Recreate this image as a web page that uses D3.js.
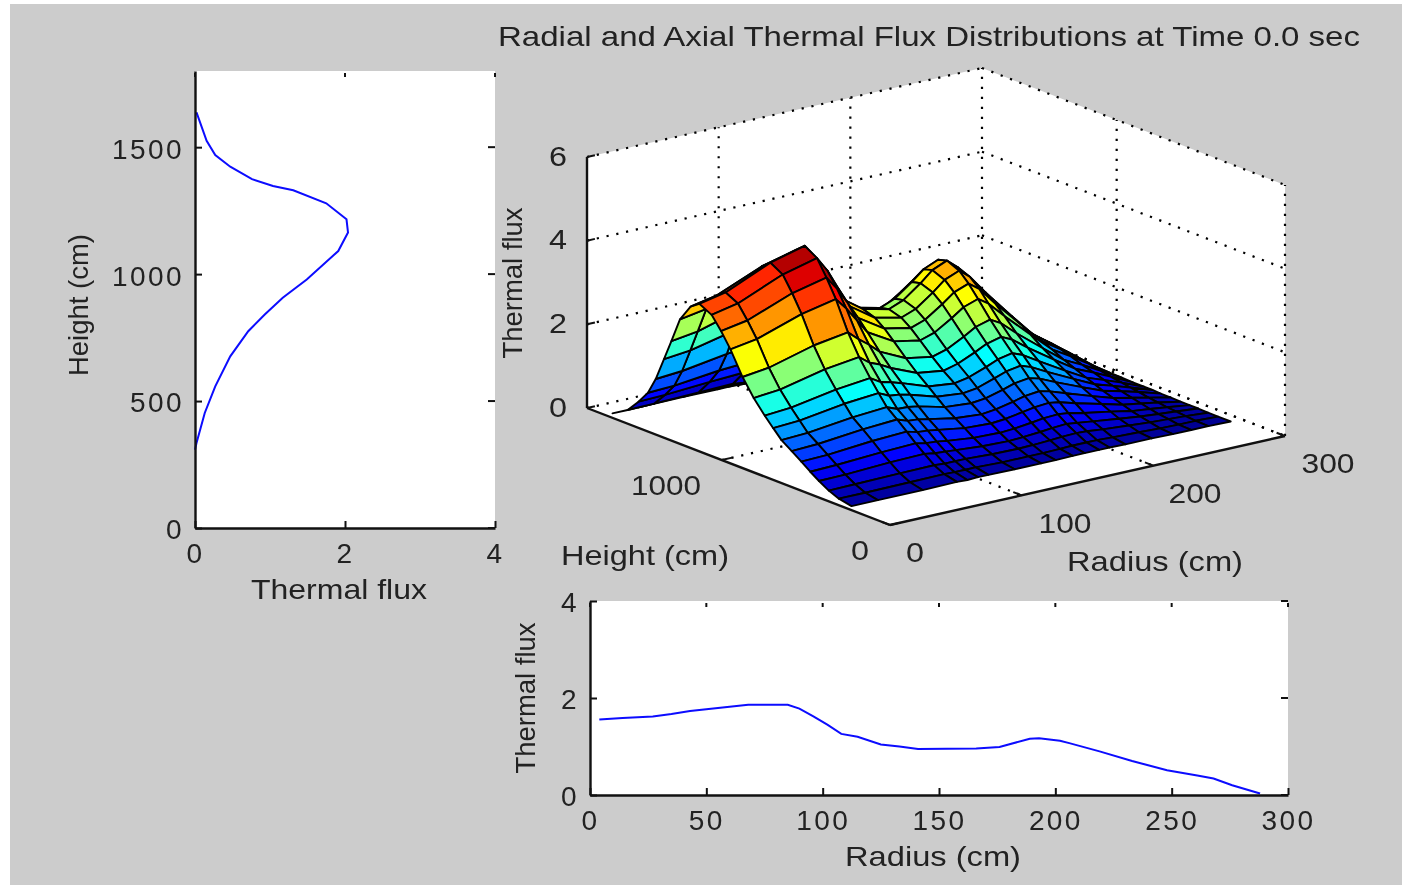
<!DOCTYPE html>
<html>
<head>
<meta charset="utf-8">
<title>Thermal flux</title>
<script src="https://cdn.jsdelivr.net/npm/d3@7"></script>
<style>
  html, body { margin: 0; padding: 0; background: #fff; }
  svg { display: block; filter: blur(0.6px); }
  text { font-family: "Liberation Sans", Arial, sans-serif; fill: #222; }
</style>
</head>
<body>
<script>
// axial profile (left plot)
const axialHeight = [308,335,453,558,676,775,841,907,979,1091,1164,1216,1279,1330,1347,1374,1423,1469,1525,1637];
const axialFlux = [0,0.02,0.13,0.27,0.47,0.71,0.93,1.17,1.49,1.91,2.04,2.02,1.75,1.31,1.04,0.76,0.47,0.27,0.155,0.02];

// radial profile (bottom plot)
const radialRadius = [4,14,27,35,43,50,58,68,85,90,96,102,108,115,125,133,141,166,176,189,193,202,206,219,233,248,261,268,276,288];
const radialFlux = [1.555,1.59,1.62,1.67,1.73,1.77,1.81,1.86,1.86,1.78,1.62,1.45,1.26,1.2,1.04,1.0,0.95,0.96,0.99,1.16,1.17,1.12,1.07,0.9,0.7,0.51,0.4,0.34,0.2,0.03];

const surfRadius = [4,24,58,84,92,100,108,128,148,159,172,181,192,200,212,232,248,262,275,292];
const surfHeight = [260,335,395,453,505,558,615,676,725,775,841,907,979,1035,1091,1164,1216,1279,1330,1374,1423,1469,1525,1590,1680];
const surfFlux = [
  [.02,.02,.02,.03,.02,.03,.03,.02,.02,.02,.03,.03,.03,.03,.02,.02,.01,.01,.01,0],
  [.08,.08,.09,.10,.09,.09,.09,.07,.07,.07,.08,.09,.09,.09,.07,.05,.03,.02,.02,0],
  [.18,.19,.21,.22,.20,.20,.20,.17,.16,.17,.19,.21,.22,.21,.17,.12,.08,.06,.04,0],
  [.32,.33,.38,.40,.36,.34,.32,.27,.25,.27,.30,.33,.35,.32,.27,.19,.13,.09,.06,.01],
  [.46,.48,.54,.57,.52,.50,.46,.39,.37,.39,.44,.48,.50,.47,.39,.28,.18,.13,.08,.01],
  [.62,.64,.73,.77,.70,.68,.64,.54,.51,.54,.61,.66,.69,.65,.54,.38,.25,.18,.11,.01],
  [.78,.81,.92,.97,.88,.86,.81,.69,.64,.68,.77,.84,.88,.82,.69,.48,.32,.23,.14,.02],
  [.95,.98,1.11,1.17,1.07,1.06,1.02,.86,.81,.85,.96,1.05,1.10,1.03,.86,.60,.40,.29,.18,.02],
  [1.16,1.20,1.36,1.43,1.31,1.28,1.22,1.03,.97,1.02,1.16,1.26,1.32,1.23,1.03,.72,.48,.34,.21,.03],
  [1.38,1.43,1.62,1.71,1.56,1.50,1.42,1.20,1.13,1.20,1.35,1.47,1.54,1.44,1.21,.84,.56,.40,.25,.03],
  [1.70,1.76,2.00,2.11,1.92,1.82,1.68,1.42,1.33,1.42,1.60,1.74,1.83,1.71,1.43,1.00,.67,.48,.29,.03],
  [2.10,2.18,2.47,2.60,2.38,2.19,1.97,1.67,1.56,1.66,1.87,2.04,2.14,2.00,1.67,1.17,.78,.56,.34,.04],
  [2.65,2.75,3.11,3.28,3.00,2.66,2.32,1.96,1.84,1.95,2.20,2.40,2.52,2.35,1.97,1.38,.92,.66,.40,.05],
  [3.00,3.11,3.52,3.71,3.39,3.00,2.58,2.18,2.05,2.17,2.45,2.67,2.80,2.62,2.19,1.53,1.02,.73,.45,.05],
  [3.30,3.43,3.88,4.09,3.73,3.26,2.78,2.35,2.21,2.34,2.64,2.88,3.02,2.82,2.36,1.65,1.10,.79,.48,.06],
  [3.45,3.58,4.05,4.27,3.90,3.40,2.90,2.45,2.30,2.44,2.75,3.00,3.15,2.94,2.46,1.72,1.15,.82,.50,.06],
  [3.30,3.43,3.88,4.09,3.73,3.30,2.84,2.40,2.25,2.39,2.70,2.94,3.09,2.88,2.41,1.69,1.13,.80,.49,.06],
  [2.90,3.01,3.40,3.59,3.28,2.90,2.49,2.11,1.98,2.10,2.37,2.58,2.71,2.53,2.12,1.48,.99,.71,.43,.05],
  [2.30,2.39,2.70,2.85,2.60,2.30,1.97,1.67,1.56,1.66,1.87,2.04,2.14,2.00,1.67,1.17,.78,.56,.34,.04],
  [1.80,1.87,2.11,2.23,2.04,1.74,1.45,1.23,1.15,1.22,1.38,1.50,1.58,1.47,1.23,.86,.58,.41,.25,.03],
  [1.25,1.30,1.47,1.55,1.41,1.23,1.04,.88,.83,.88,.99,1.08,1.13,1.06,.89,.62,.41,.30,.18,.02],
  [.85,.88,1.00,1.05,.96,.84,.73,.61,.58,.61,.69,.75,.79,.74,.62,.43,.29,.21,.13,.02],
  [.55,.57,.64,.68,.62,.53,.44,.37,.35,.37,.41,.45,.47,.44,.37,.26,.17,.12,.08,.01],
  [.25,.26,.29,.31,.28,.24,.20,.17,.16,.17,.19,.21,.22,.21,.17,.12,.08,.06,.04,0],
  [.03,.03,.04,.04,.04,.03,.03,.02,.02,.02,.03,.03,.03,.03,.02,.02,.01,.01,.01,0]
];

const width = 1402, height = 887;
const fontSize = 28;

const svg = d3.select("body").append("svg")
    .attr("width", width)
    .attr("height", height);

svg.append("rect")
    .attr("x", 10).attr("y", 4)
    .attr("width", width - 10).attr("height", 881)
    .attr("fill", "#cccccc");

// text stretched to the measured width, the original font is wider than anything installed
function label(x, y, str, len, rotate) {
  const t = svg.append("text")
      .attr("text-anchor", "middle")
      .attr("dominant-baseline", "central")
      .attr("font-size", fontSize)
      .attr("textLength", len)
      .attr("lengthAdjust", "spacingAndGlyphs")
      .text(str);
  if (rotate) t.attr("transform", `translate(${x},${y}) rotate(-90)`);
  else t.attr("x", x).attr("y", y);
}

// one of the two flat line plots
function flatPlot(x0, x1, y0, y1, xDomain, yDomain, xTicks, yTicks, xs, ys) {
  const x = d3.scaleLinear().domain(xDomain).range([x0, x1]);
  const y = d3.scaleLinear().domain(yDomain).range([y1, y0]);
  const g = svg.append("g");

  g.append("rect")
      .attr("x", x0).attr("y", y0)
      .attr("width", x1 - x0).attr("height", y1 - y0)
      .attr("fill", "#fff");

  g.append("path")
      .datum(xs.map((d, i) => [d, ys[i]]))
      .attr("fill", "none")
      .attr("stroke", "#0c0cff")
      .attr("stroke-width", 2)
      .attr("d", d3.line().x(d => x(d[0])).y(d => y(d[1])));

  const styleAxis = sel => {
    sel.selectAll(".domain").attr("stroke", "#111").attr("stroke-width", 2.4);
    sel.selectAll(".tick line").attr("stroke", "#111").attr("stroke-width", 2);
    sel.selectAll("text")
        .attr("font-size", fontSize)
        .style("letter-spacing", "2.4px")
        .style("font-family", '"Liberation Sans", Arial, sans-serif');
  };

  g.append("g")
      .attr("transform", `translate(0,${y1})`)
      .call(d3.axisBottom(x).tickValues(xTicks).tickFormat(d3.format("d")).tickSize(-7).tickPadding(15).tickSizeOuter(0))
      .call(styleAxis);
  g.append("g")
      .attr("transform", `translate(${x0},0)`)
      .call(d3.axisLeft(y).tickValues(yTicks).tickFormat(d3.format("d")).tickSize(-7).tickPadding(11).tickSizeOuter(0))
      .call(styleAxis)
      .selectAll("text").attr("dy", "0.39em");

  // ticks on the far sides, no spine there
  g.append("g").selectAll("line").data(xTicks).join("line")
      .attr("x1", d => x(d)).attr("x2", d => x(d))
      .attr("y1", y0 + 2).attr("y2", y0 + 6)
      .attr("stroke", "#111").attr("stroke-width", 2);
  g.append("g").selectAll("line").data(yTicks).join("line")
      .attr("x1", x1 - 7).attr("x2", x1)
      .attr("y1", d => y(d)).attr("y2", d => y(d))
      .attr("stroke", "#111").attr("stroke-width", 2);
}

flatPlot(195, 495, 71, 528, [0, 4], [0, 1800], [0, 2, 4], [0, 500, 1000, 1500], axialFlux, axialHeight);
flatPlot(590, 1288, 601, 795, [0, 300], [0, 4], [0, 50, 100, 150, 200, 250, 300], [0, 2, 4], radialRadius, radialFlux);

label(339, 589, "Thermal flux", 176);
label(78, 305, "Height (cm)", 142, true);
label(933, 856, "Radius (cm)", 176);
label(525, 698, "Thermal flux", 151, true);

// ---- 3d view, oblique projection through three scales ----
const originX = 890, originY = 525;
const rX = d3.scaleLinear().domain([0, 300]).range([0, 395]);
const rY = d3.scaleLinear().domain([0, 300]).range([0, -89]);
const hX = d3.scaleLinear().domain([0, 1800]).range([0, -303]);
const hY = d3.scaleLinear().domain([0, 1800]).range([0, -117]);
const zY = d3.scaleLinear().domain([0, 6]).range([0, -251]);

const project = (r, h, z) => [originX + rX(r) + hX(h), originY + rY(r) + hY(h) + zY(z)];

const g3 = svg.append("g");

g3.append("path")
    .attr("fill", "#fff")
    .attr("d", d3.line()([project(0, 1800, 0), project(0, 1800, 6), project(300, 1800, 6),
                          project(300, 0, 6), project(300, 0, 0), project(0, 0, 0)]) + "Z");

// dotted grid on the floor and both back walls
const gridLines = [];
[2, 4, 6, 0].forEach(z => {
  gridLines.push([project(0, 1800, z), project(300, 1800, z)]);
  gridLines.push([project(300, 1800, z), project(300, 0, z)]);
});
[100, 200, 300].forEach(r => {
  gridLines.push([project(r, 1800, 0), project(r, 1800, 6)]);
  gridLines.push([project(r, 1800, 0), project(r, 0, 0)]);
});
gridLines.push([project(300, 0, 0), project(300, 0, 6)]);
gridLines.push([project(300, 1000, 0), project(300, 1000, 6)]);
gridLines.push([project(0, 1000, 0), project(300, 1000, 0)]);

g3.append("g").selectAll("path").data(gridLines).join("path")
    .attr("d", d => d3.line()(d))
    .attr("fill", "none")
    .attr("stroke", "#000")
    .attr("stroke-width", 2.2)
    .attr("stroke-dasharray", "2.2 7.8");

// jet colormap, z goes from 0 to the surface maximum
const zMax = d3.max(surfFlux.flat());
const jet = d3.scaleLinear()
    .domain([0, 1/8, 3/8, 5/8, 7/8, 1].map(d => d * zMax))
    .range(["#00008f", "#0000ff", "#00ffff", "#ffff00", "#ff0000", "#800000"])
    .interpolate(d3.interpolateRgb);

// painter's order: far corner first
const cells = [];
for (let i = surfHeight.length - 2; i >= 0; i--) {
  for (let j = surfRadius.length - 2; j >= 0; j--) {
    cells.push({
      corners: [[i, j], [i, j + 1], [i + 1, j + 1], [i + 1, j]]
    });
  }
}

// flat shading: a cell takes the colour of its upper-height, lower-radius vertex
g3.append("g").selectAll("path").data(cells).join("path")
    .attr("d", d => d3.line()(d.corners.map(c => project(surfRadius[c[1]], surfHeight[c[0]], surfFlux[c[0]][c[1]]))) + "Z")
    .attr("fill", d => jet(surfFlux[d.corners[3][0]][d.corners[3][1]]))
    .attr("stroke", "#000")
    .attr("stroke-width", 1.9)
    .attr("stroke-linejoin", "round");

// solid axes of the box
const solidAxes = [
  [project(0, 1800, 0), project(0, 1800, 6)],
  [project(0, 1800, 0), project(0, 0, 0)],
  [project(0, 0, 0), project(300, 0, 0)]
];
g3.append("g").selectAll("path").data(solidAxes).join("path")
    .attr("d", d => d3.line()(d))
    .attr("stroke", "#111")
    .attr("stroke-width", 2.4);

const zTicks = [0, 2, 4, 6];
const hTicks = [0, 1000];
const rTicks = [0, 100, 200, 300];
const tickSegs = [];
zTicks.forEach(z => tickSegs.push([project(0, 1800, z), project(6, 1800, z)]));
hTicks.forEach(h => tickSegs.push([project(0, h, 0), project(8, h, 0)]));
rTicks.forEach(r => tickSegs.push([project(r, 0, 0), project(r, 50, 0)]));
g3.append("g").selectAll("path").data(tickSegs).join("path")
    .attr("d", d => d3.line()(d))
    .attr("stroke", "#111")
    .attr("stroke-width", 2);

// tick labels of the 3d view
const tick3d = (x, y, str, len) => label(x, y, str, len);
zTicks.forEach(z => {
  const p = project(0, 1800, z);
  tick3d(p[0] - 29, p[1] - 1, String(z), 18);
});
tick3d(666, 485, "1000", 70);
tick3d(860, 550, "0", 18);
tick3d(915, 552, "0", 18);
tick3d(1065, 523, "100", 53);
tick3d(1195, 493, "200", 53);
tick3d(1328, 463, "300", 53);

label(645, 555, "Height (cm)", 168);
label(1155, 561, "Radius (cm)", 176);
label(512, 283, "Thermal flux", 151, true);
label(929, 36, "Radial and Axial Thermal Flux Distributions at Time 0.0 sec", 862);
</script>
</body>
</html>
